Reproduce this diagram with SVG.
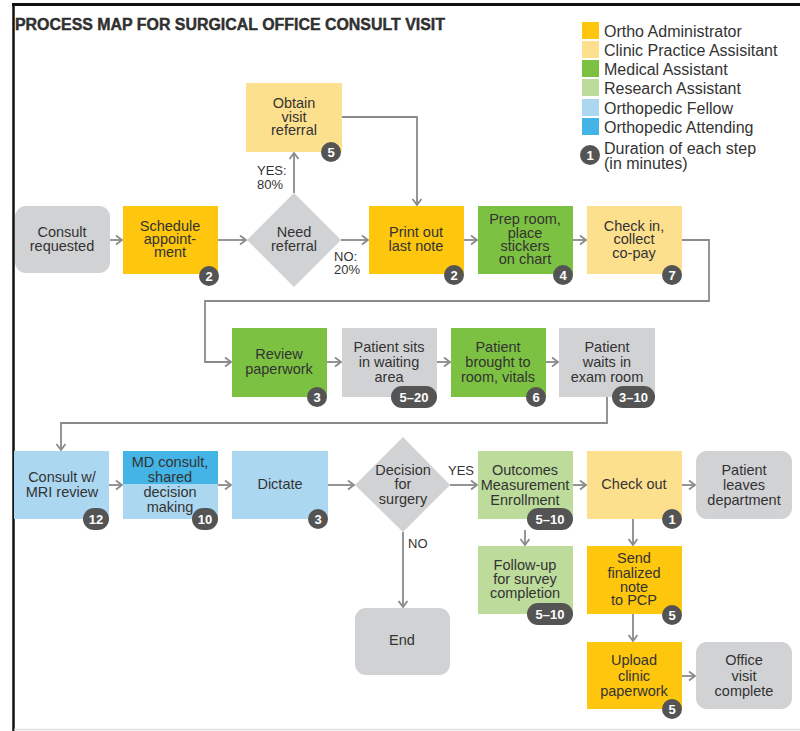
<svg xmlns="http://www.w3.org/2000/svg" width="800" height="731" viewBox="0 0 800 731">
<defs>
<marker id="arr" markerUnits="userSpaceOnUse" markerWidth="12" markerHeight="12" refX="7" refY="5" orient="auto">
<path d="M1,0.5 L7,5 L1,9.5" fill="none" stroke="#8a8a8a" stroke-width="1.8"/>
</marker>
</defs>
<style>
text{font-family:"Liberation Sans",Arial,sans-serif;fill:#333;}
.t{font-size:14.5px;text-anchor:middle;}
.lg{font-size:16px;}
.lbl{font-size:13px;}
.c{fill:none;stroke:#8a8a8a;stroke-width:1.8;marker-end:url(#arr);}
.oa{fill:#fec60c;}
.cpa{fill:#fde08e;}
.ma{fill:#7cc142;}
.ra{fill:#bddc9b;}
.of{fill:#acd7f1;}
.at{fill:#44b4e6;}
.gr{fill:#d1d2d4;}
.b{fill:#545454;}
.bt{fill:#fff;font-size:13px;font-weight:bold;text-anchor:middle;}
</style>
<rect width="800" height="731" fill="#fff"/>
<line x1="12" y1="4.5" x2="800" y2="4.5" stroke="#111" stroke-width="3"/>
<line x1="13.5" y1="3" x2="13.5" y2="731" stroke="#111" stroke-width="2.5"/>
<line x1="14" y1="729.5" x2="800" y2="729.5" stroke="#ddd" stroke-width="1.5"/>
<text x="15" y="30" font-size="16" font-weight="bold" textLength="430" lengthAdjust="spacingAndGlyphs" fill="#222" stroke="#222" stroke-width="0.4">PROCESS MAP FOR SURGICAL OFFICE CONSULT VISIT</text>

<g id="legend">
<rect x="582" y="22" width="17" height="17" class="oa"/><text x="604" y="37" class="lg">Ortho Administrator</text>
<rect x="582" y="41" width="17" height="17" class="cpa"/><text x="604" y="56" class="lg">Clinic Practice Assisitant</text>
<rect x="582" y="60" width="17" height="17" class="ma"/><text x="604" y="75" class="lg">Medical Assistant</text>
<rect x="582" y="79" width="17" height="17" class="ra"/><text x="604" y="94" class="lg">Research Assistant</text>
<rect x="582" y="99" width="17" height="17" class="of"/><text x="604" y="114" class="lg">Orthopedic Fellow</text>
<rect x="582" y="118" width="17" height="17" class="at"/><text x="604" y="133" class="lg">Orthopedic Attending</text>
<circle cx="590" cy="155" r="10" class="b"/><text x="590" y="160" class="bt">1</text>
<text x="604" y="154" class="lg">Duration of each step</text>
<text x="604" y="169" class="lg">(in minutes)</text>
</g>

<g id="connectors">
<path class="c" d="M110,240 H122"/>
<path class="c" d="M218,240 H246"/>
<path class="c" d="M341,240 H368"/>
<path class="c" d="M294,193 V153"/>
<path class="c" d="M342,117 H417 V205"/>
<path class="c" d="M464,240 H477"/>
<path class="c" d="M573,240 H586"/>
<path class="c" d="M682,240 H709 V301 H205 V362 H231"/>
<path class="c" d="M327,362 H341"/>
<path class="c" d="M437,362 H450"/>
<path class="c" d="M546,362 H558"/>
<path class="c" d="M607,397 V423 H61 V450"/>
<path class="c" d="M109,485 H122"/>
<path class="c" d="M218,485 H231"/>
<path class="c" d="M328,485 H354"/>
<path class="c" d="M450,485 H477"/>
<path class="c" d="M573,485 H586"/>
<path class="c" d="M682,485 H695"/>
<path class="c" d="M525,530 V545"/>
<path class="c" d="M633,519 V545"/>
<path class="c" d="M403,532 V607"/>
<path class="c" d="M633,614 V641"/>
<path class="c" d="M682,676 H695"/>
<text x="257" y="175" class="lbl">YES:</text>
<text x="257" y="189" class="lbl">80%</text>
<text x="334" y="261" class="lbl">NO:</text>
<text x="334" y="274" class="lbl">20%</text>
<text x="448" y="475" class="lbl" font-size="12">YES</text>
<text x="408" y="548" class="lbl" font-size="12">NO</text>
</g>

<g id="consult-requested">
<rect x="15" y="206" width="95" height="67" rx="11" class="gr"/>
<text class="t" x="62" y="237">Consult</text><text class="t" x="62" y="251">requested</text>
</g>
<g id="schedule">
<rect x="123" y="206" width="95" height="68" class="oa"/>
<text class="t" x="170" y="231">Schedule</text><text class="t" x="170" y="244">appoint-</text><text class="t" x="170" y="257">ment</text>
<circle cx="209" cy="276" r="10" class="b"/><text class="bt" x="209" y="281">2</text>
</g>
<g id="need-referral">
<polygon points="294,193 341,240 294,287 247,240" class="gr"/>
<text class="t" x="294" y="237">Need</text><text class="t" x="294" y="251">referral</text>
</g>
<g id="obtain-referral">
<rect x="246" y="83" width="96" height="69" class="cpa"/>
<text class="t" x="294" y="108">Obtain</text><text class="t" x="294" y="122">visit</text><text class="t" x="294" y="135">referral</text>
<circle cx="331" cy="152" r="10" class="b"/><text class="bt" x="331" y="157">5</text>
</g>
<g id="print-note">
<rect x="369" y="206" width="95" height="68" class="oa"/>
<text class="t" x="416" y="237">Print out</text><text class="t" x="416" y="251">last note</text>
<circle cx="454" cy="275" r="10" class="b"/><text class="bt" x="454" y="280">2</text>
</g>
<g id="prep-room">
<rect x="478" y="206" width="95" height="68" class="ma"/>
<text class="t" x="525" y="224">Prep room,</text><text class="t" x="525" y="238">place</text><text class="t" x="525" y="251">stickers</text><text class="t" x="525" y="264">on chart</text>
<circle cx="563" cy="275" r="10" class="b"/><text class="bt" x="563" y="280">4</text>
</g>
<g id="check-in">
<rect x="587" y="206" width="95" height="68" class="cpa"/>
<text class="t" x="634" y="231">Check in,</text><text class="t" x="634" y="244">collect</text><text class="t" x="634" y="258">co-pay</text>
<circle cx="672" cy="275" r="10" class="b"/><text class="bt" x="672" y="280">7</text>
</g>

<g id="review-paperwork">
<rect x="232" y="328" width="95" height="69" class="ma"/>
<text class="t" x="279" y="359">Review</text><text class="t" x="279" y="374">paperwork</text>
<circle cx="317" cy="397" r="10" class="b"/><text class="bt" x="317" y="402">3</text>
</g>
<g id="patient-sits">
<rect x="342" y="328" width="95" height="69" class="gr"/>
<text class="t" x="389" y="352">Patient sits</text><text class="t" x="389" y="367">in waiting</text><text class="t" x="389" y="382">area</text>
<rect x="391" y="386" width="46" height="22" rx="11" class="b"/><text class="bt" x="414" y="402">5–20</text>
</g>
<g id="patient-brought">
<rect x="451" y="328" width="95" height="69" class="ma"/>
<text class="t" x="498" y="352">Patient</text><text class="t" x="498" y="367">brought to</text><text class="t" x="498" y="382">room, vitals</text>
<circle cx="536" cy="397" r="10" class="b"/><text class="bt" x="536" y="402">6</text>
</g>
<g id="patient-waits">
<rect x="559" y="328" width="96" height="69" class="gr"/>
<text class="t" x="607" y="352">Patient</text><text class="t" x="607" y="367">waits in</text><text class="t" x="607" y="382">exam room</text>
<rect x="612" y="386" width="43" height="22" rx="11" class="b"/><text class="bt" x="633.5" y="402">3–10</text>
</g>

<g id="consult-mri">
<rect x="14" y="451" width="95" height="68" class="of"/>
<text class="t" x="62" y="482">Consult w/</text><text class="t" x="62" y="497">MRI review</text>
<rect x="83" y="508" width="26" height="22" rx="11" class="b"/><text class="bt" x="96" y="524">12</text>
</g>
<g id="md-consult">
<rect x="123" y="451" width="95" height="68" class="of"/>
<rect x="123" y="451" width="95" height="33" class="at"/>
<text class="t" x="170" y="467">MD consult,</text><text class="t" x="170" y="482">shared</text><text class="t" x="170" y="497">decision</text><text class="t" x="170" y="512">making</text>
<rect x="192" y="508" width="26" height="22" rx="11" class="b"/><text class="bt" x="205" y="524">10</text>
</g>
<g id="dictate">
<rect x="232" y="451" width="96" height="68" class="of"/>
<text class="t" x="280" y="489">Dictate</text>
<circle cx="318" cy="519" r="10" class="b"/><text class="bt" x="318" y="524">3</text>
</g>
<g id="decision-surgery">
<polygon points="403,437 450,485 403,532 355,485" class="gr"/>
<text class="t" x="403" y="475">Decision</text><text class="t" x="403" y="489">for</text><text class="t" x="403" y="504">surgery</text>
</g>
<g id="outcomes">
<rect x="478" y="451" width="95" height="68" class="ra"/>
<text class="t" x="525" y="475">Outcomes</text><text class="t" x="525" y="490">Measurement</text><text class="t" x="525" y="505">Enrollment</text>
<rect x="527" y="508" width="46" height="22" rx="11" class="b"/><text class="bt" x="550" y="524">5–10</text>
</g>
<g id="check-out">
<rect x="587" y="451" width="95" height="68" class="cpa"/>
<text class="t" x="634" y="489">Check out</text>
<circle cx="672" cy="519" r="10" class="b"/><text class="bt" x="672" y="524">1</text>
</g>
<g id="patient-leaves">
<rect x="696" y="451" width="96" height="68" rx="11" class="gr"/>
<text class="t" x="744" y="475">Patient</text><text class="t" x="744" y="490">leaves</text><text class="t" x="744" y="505">department</text>
</g>
<g id="end">
<rect x="355" y="608" width="95" height="67" rx="11" class="gr"/>
<text class="t" x="402" y="645">End</text>
</g>
<g id="follow-up">
<rect x="478" y="546" width="95" height="68" class="ra"/>
<text class="t" x="525" y="570">Follow-up</text><text class="t" x="525" y="584">for survey</text><text class="t" x="525" y="598">completion</text>
<rect x="527" y="603" width="46" height="22" rx="11" class="b"/><text class="bt" x="550" y="619">5–10</text>
</g>
<g id="send-note">
<rect x="587" y="546" width="95" height="68" class="oa"/>
<text class="t" x="634" y="563">Send</text><text class="t" x="634" y="578">finalized</text><text class="t" x="634" y="592">note</text><text class="t" x="634" y="605">to PCP</text>
<circle cx="672" cy="615" r="10" class="b"/><text class="bt" x="672" y="620">5</text>
</g>
<g id="upload-paperwork">
<rect x="587" y="642" width="95" height="67" class="oa"/>
<text class="t" x="634" y="665">Upload</text><text class="t" x="634" y="681">clinic</text><text class="t" x="634" y="696">paperwork</text>
<circle cx="672" cy="709" r="10" class="b"/><text class="bt" x="672" y="714">5</text>
</g>
<g id="office-complete">
<rect x="696" y="642" width="96" height="67" rx="11" class="gr"/>
<text class="t" x="744" y="665">Office</text><text class="t" x="744" y="681">visit</text><text class="t" x="744" y="696">complete</text>
</g>
</svg>
